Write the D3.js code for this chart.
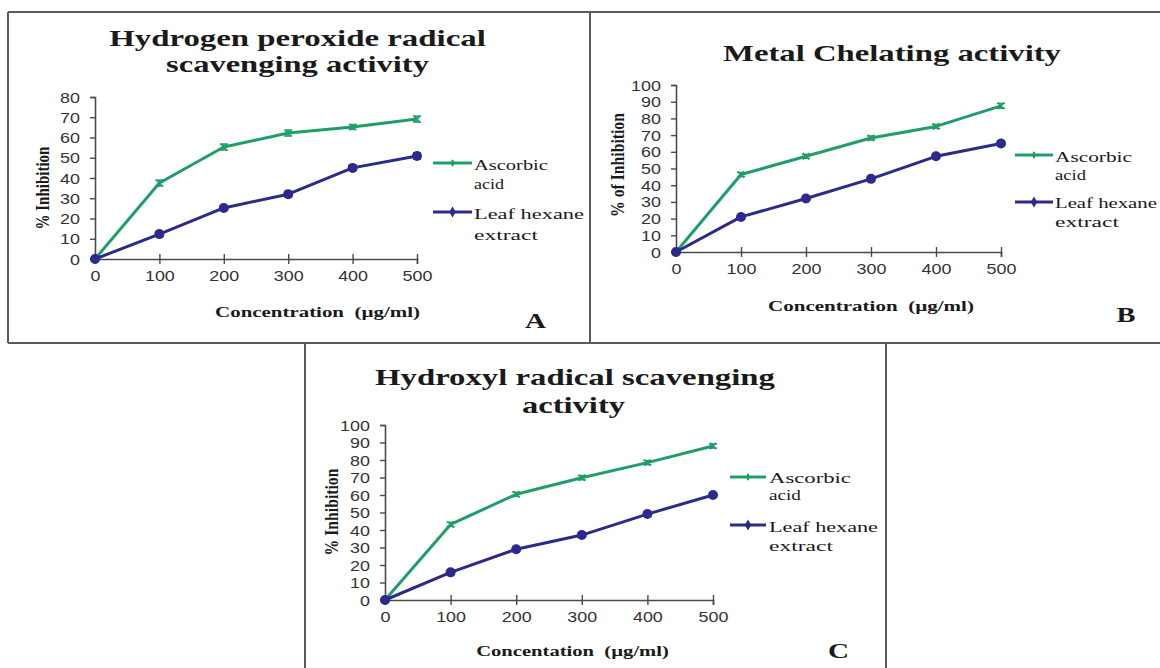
<!DOCTYPE html>
<html>
<head>
<meta charset="utf-8">
<script src="https://cdn.jsdelivr.net/npm/d3@7"></script>
<style>
  html, body { margin: 0; padding: 0; background: #ffffff; }
  svg { display: block; }
</style>
</head>
<body>
<svg id="chart" width="1160" height="668"></svg>
<script>
// ---------------- DATA ----------------
const concentrations = [0, 100, 200, 300, 400, 500];
const xTickLabels = ["0", "100", "200", "300", "400", "500"];
const seriesNames = ["Ascorbic acid", "Leaf hexane extract"];

// Panel A: Hydrogen peroxide radical scavenging activity
const aAscorbic = [0, 37.5, 55.3, 62.2, 65.2, 69.1];
const aLeaf     = [0, 12.3, 25.2, 32.0, 45.0, 50.9];
const aAscorbicErr = [0, 1.5, 1.5, 1.5, 1.2, 1.5];
const aLeafErr     = [0, 1.2, 1.2, 1.5, 1.2, 1.5];
const aYTicks = [0, 10, 20, 30, 40, 50, 60, 70, 80];

// Panel B: Metal Chelating activity
const bAscorbic = [0, 46.4, 57.3, 68.3, 75.2, 87.5];
const bLeaf     = [0, 21.0, 32.0, 43.8, 57.3, 65.0];
const bAscorbicErr = [0, 1.2, 1.2, 1.2, 1.2, 1.5];
const bLeafErr     = [0, 1.2, 1.2, 1.2, 1.2, 1.5];
const bYTicks = [0, 10, 20, 30, 40, 50, 60, 70, 80, 90, 100];

// Panel C: Hydroxyl radical scavenging activity
const cAscorbic = [0, 43.2, 60.4, 69.9, 78.5, 88.0];
const cLeaf     = [0, 15.8, 29.0, 37.1, 49.1, 60.0];
const cAscorbicErr = [0, 1.2, 1.2, 1.2, 1.2, 1.2];
const cLeafErr     = [0, 1.2, 1.2, 1.2, 1.2, 1.2];
const cYTicks = [0, 10, 20, 30, 40, 50, 60, 70, 80, 90, 100];

// ---------------- STYLE / LAYOUT ----------------
const GREEN = "#1f9f68";
const BLUE = "#2c2a8a";
const AXIS = "#4a4a4a";
const TXT = "#1a1a1a";
const SERIF = "'Liberation Serif', 'Times New Roman', serif";
const SANS = "'Liberation Sans', Arial, sans-serif";

const svg = d3.select("#chart");

// panel frames
const frame = svg.append("g").attr("fill", "none").attr("stroke", "#5a5a5a").attr("stroke-width", 2);
frame.append("line").attr("x1", 8).attr("y1", 12).attr("x2", 1160).attr("y2", 12);
frame.append("line").attr("x1", 8).attr("y1", 343).attr("x2", 1160).attr("y2", 343);
frame.append("line").attr("x1", 8).attr("y1", 12).attr("x2", 8).attr("y2", 343);
frame.append("line").attr("x1", 590).attr("y1", 12).attr("x2", 590).attr("y2", 343);
frame.append("line").attr("x1", 305).attr("y1", 343).attr("x2", 305).attr("y2", 668);
frame.append("line").attr("x1", 886).attr("y1", 343).attr("x2", 886).attr("y2", 668);

// text helper: stretched horizontally to the measured width
function label(g, str, o) {
  const t = g.append("text").text(str)
    .attr("font-family", o.family || SERIF)
    .attr("font-size", o.size)
    .attr("font-weight", o.weight || "normal")
    .attr("fill", o.fill || TXT)
    .attr("text-anchor", o.anchor || "middle");
  const L = t.node().getComputedTextLength();
  const s = o.w ? o.w / L : 1;
  if (o.rotate) {
    t.attr("transform", `translate(${o.x},${o.y}) rotate(-90) scale(${s},${o.sy || 1.3})`);
  } else {
    t.attr("transform", `translate(${o.x},${o.y}) scale(${s},1)`);
  }
  return t;
}

const XLAB = "Concentration\u00a0\u00a0(\u00b5g/ml)";
const XLAB_C = "Concentation\u00a0\u00a0(\u00b5g/ml)";

const panels = [
  {
    asc: aAscorbic, leaf: aLeaf, ascErr: aAscorbicErr, leafErr: aLeafErr,
    yMax: 80, yTicks: aYTicks,
    x0: 95, x1: 417, y0: 259, y1: 97,
    titles: [
      { s: "Hydrogen peroxide radical", x: 297.5, y: 46, w: 377 },
      { s: "scavenging activity", x: 297.5, y: 72, w: 263 }
    ],
    yLabel: { s: "% Inhibition", x: 49, y: 188, w: 83 },
    xLabel: { s: XLAB, x: 317.5, y: 317, w: 205 },
    letter: { s: "A", x: 535.5, y: 328, w: 21 },
    legend: { lx0: 433, lx1: 472, tx: 474, gy: 163, by: 212,
      t: [ { s: "Ascorbic", y: 170, w: 74 }, { s: "acid", y: 189, w: 30 },
           { s: "Leaf hexane", y: 219, w: 110 }, { s: "extract", y: 240, w: 64 } ] }
  },
  {
    asc: bAscorbic, leaf: bLeaf, ascErr: bAscorbicErr, leafErr: bLeafErr,
    yMax: 100, yTicks: bYTicks,
    x0: 676, x1: 1001, y0: 252, y1: 85,
    titles: [
      { s: "Metal Chelating activity", x: 892, y: 61, w: 338 }
    ],
    yLabel: { s: "% of Inhibition", x: 624, y: 165, w: 104 },
    xLabel: { s: XLAB, x: 871, y: 311, w: 206 },
    letter: { s: "B", x: 1126, y: 322, w: 19 },
    legend: { lx0: 1015, lx1: 1053, tx: 1055, gy: 155, by: 202,
      t: [ { s: "Ascorbic", y: 162, w: 77 }, { s: "acid", y: 180, w: 31 },
           { s: "Leaf hexane", y: 208, w: 102 }, { s: "extract", y: 227, w: 64 } ] }
  },
  {
    asc: cAscorbic, leaf: cLeaf, ascErr: cAscorbicErr, leafErr: cLeafErr,
    yMax: 100, yTicks: cYTicks,
    x0: 385, x1: 713, y0: 600, y1: 425,
    titles: [
      { s: "Hydroxyl radical scavenging", x: 575, y: 385, w: 400 },
      { s: "activity", x: 573.5, y: 413, w: 103 }
    ],
    yLabel: { s: "% Inhibition", x: 338, y: 512, w: 87 },
    xLabel: { s: XLAB_C, x: 572.5, y: 656, w: 193 },
    letter: { s: "C", x: 838.5, y: 658, w: 21 },
    legend: { lx0: 730, lx1: 766, tx: 769, gy: 477, by: 525,
      t: [ { s: "Ascorbic", y: 483, w: 82 }, { s: "acid", y: 500, w: 32 },
           { s: "Leaf hexane", y: 532, w: 109 }, { s: "extract", y: 551, w: 64 } ] }
  }
];

panels.forEach(p => {
  const g = svg.append("g");
  const x = d3.scaleLinear().domain([0, 500]).range([p.x0, p.x1]);
  const y = d3.scaleLinear().domain([0, p.yMax]).range([p.y0, p.y1]);

  // titles
  p.titles.forEach(t => label(g, t.s, { x: t.x, y: t.y, w: t.w, size: 24, weight: "bold" }));

  // y axis
  const ya = g.append("g").attr("transform", `translate(${p.x0},0)`)
    .call(d3.axisLeft(y).tickValues(p.yTicks).tickSize(5).tickPadding(10).tickFormat(d3.format("d")));
  // x axis
  const xa = g.append("g").attr("transform", `translate(0,${p.y0})`)
    .call(d3.axisBottom(x).tickValues(concentrations).tickSize(5).tickFormat((d, i) => xTickLabels[i]));

  [ya, xa].forEach(a => {
    a.select(".domain").attr("stroke", AXIS).attr("stroke-width", 1.6);
    a.selectAll(".tick line").attr("stroke", AXIS).attr("stroke-width", 1.4);
    a.selectAll(".tick text").attr("font-family", SANS).attr("font-size", 14).attr("fill", "#333");
  });
  xa.selectAll(".tick line").attr("y1", -5).attr("y2", 5);
  ya.selectAll(".tick text").each(function () {
    const t = d3.select(this);
    const xx = +t.attr("x");
    t.attr("x", 0).attr("dy", "0.36em").attr("transform", `translate(${xx},0) scale(1.28,1)`);
  });
  xa.selectAll(".tick text").each(function () {
    const t = d3.select(this);
    t.attr("y", 22).attr("dy", null).attr("transform", `scale(1.28,1)`);
  });

  // axis labels
  label(g, p.yLabel.s, { x: p.yLabel.x, y: p.yLabel.y, w: p.yLabel.w, size: 15, weight: "bold", rotate: true, sy: 1.3 });
  label(g, p.xLabel.s, { x: p.xLabel.x, y: p.xLabel.y, w: p.xLabel.w, size: 15, weight: "bold" });
  label(g, p.letter.s, { x: p.letter.x, y: p.letter.y, w: p.letter.w, size: 22, weight: "bold" });

  const line = d3.line().x((d, i) => x(concentrations[i])).y(d => y(d));

  const series = [
    { vals: p.asc, err: p.ascErr, color: GREEN, type: "x" },
    { vals: p.leaf, err: p.leafErr, color: BLUE, type: "o" }
  ];
  series.forEach(s => {
    g.append("path").datum(s.vals).attr("d", line)
      .attr("fill", "none").attr("stroke", s.color).attr("stroke-width", 3).attr("stroke-linejoin", "round");
    const pts = g.append("g").selectAll("g").data(s.vals).join("g")
      .attr("transform", (d, i) => `translate(${x(concentrations[i])},${y(d)})`);
    // error bars
    pts.each(function (d, i) {
      const e = s.err[i];
      if (!e) return;
      const h = y(0) - y(e);
      const gg = d3.select(this);
      gg.append("line").attr("x1", 0).attr("x2", 0).attr("y1", -h).attr("y2", h)
        .attr("stroke", s.color).attr("stroke-width", 1.4);
      gg.append("line").attr("x1", -4).attr("x2", 4).attr("y1", -h).attr("y2", -h)
        .attr("stroke", s.color).attr("stroke-width", 1.4);
      gg.append("line").attr("x1", -4).attr("x2", 4).attr("y1", h).attr("y2", h)
        .attr("stroke", s.color).attr("stroke-width", 1.4);
    });
    if (s.type === "o") {
      pts.append("circle").attr("r", 5).attr("fill", s.color);
    } else {
      pts.append("path").attr("d", d3.symbol().type(d3.symbolTimes).size(28))
        .attr("fill", "none").attr("stroke", s.color).attr("stroke-width", 1.6);
    }
  });

  // legend
  const lg = p.legend;
  g.append("line").attr("x1", lg.lx0).attr("x2", lg.lx1).attr("y1", lg.gy).attr("y2", lg.gy)
    .attr("stroke", GREEN).attr("stroke-width", 3);
  g.append("path").attr("transform", `translate(${(lg.lx0 + lg.lx1) / 2},${lg.gy})`)
    .attr("d", d3.symbol().type(d3.symbolCross).size(22)).attr("fill", GREEN);
  g.append("line").attr("x1", lg.lx0).attr("x2", lg.lx1).attr("y1", lg.by).attr("y2", lg.by)
    .attr("stroke", BLUE).attr("stroke-width", 3);
  g.append("path").attr("transform", `translate(${(lg.lx0 + lg.lx1) / 2},${lg.by})`)
    .attr("d", d3.symbol().type(d3.symbolDiamond).size(36)).attr("fill", BLUE);
  lg.t.forEach(t => label(g, t.s, { x: lg.tx, y: t.y, w: t.w, size: 15, anchor: "start" }));
});
</script>
</body>
</html>
